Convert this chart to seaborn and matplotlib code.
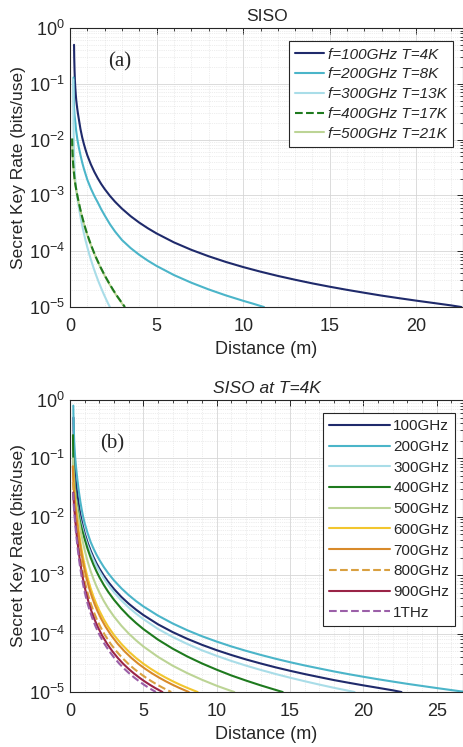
import seaborn as sns
import matplotlib.pyplot as plt
from matplotlib.ticker import LogLocator, MultipleLocator, NullFormatter

# ---- panel (a): SISO, frequency and temperature together ----
d_a100 = [0.23, 0.24, 0.26, 0.28, 0.3, 0.33, 0.36, 0.4, 0.45, 0.5, 0.6, 0.7, 0.8, 0.9,
          1.0, 1.2, 1.4, 1.6, 1.8, 2.0, 2.3, 2.6, 3.0, 3.5, 4.0, 4.5, 5, 6, 7, 8, 9, 10,
          11, 12, 13, 14, 15, 16, 17, 18, 19, 20, 21, 22, 22.6]
r_a100 = [0.5, 0.3, 0.17, 0.115, 0.088, 0.064, 0.05, 0.039, 0.03, 0.024, 0.0155, 0.011,
          0.0083, 0.0065, 0.0052, 0.00361, 0.00265, 0.00203, 0.0016, 0.0013, 0.000983,
          0.000769, 0.000578, 0.000424, 0.000325, 0.000257, 0.000208, 0.000144, 0.000106,
          0.0000813, 0.0000642, 0.000052, 0.000043, 0.0000361, 0.0000308, 0.0000265,
          0.0000231, 0.0000203, 0.000018, 0.000016, 0.0000144, 0.000013, 0.0000118,
          0.0000107, 0.00001]

d_a200 = [0.2, 0.21, 0.23, 0.26, 0.3, 0.35, 0.42, 0.5, 0.6, 0.7, 0.8, 1.0, 1.2, 1.4, 1.6,
          1.8, 2.0, 2.3, 2.6, 3.0, 3.5, 4.0, 4.5, 5.0, 6.0, 7.0, 8.0, 9.0, 10.0, 10.6, 11.2]
r_a200 = [0.13, 0.065, 0.037, 0.027, 0.021, 0.0147, 0.0102, 0.0074, 0.0053, 0.0039, 0.003,
          0.0019, 0.00133, 0.00098, 0.000748, 0.000564, 0.000438, 0.000306, 0.000225,
          0.0001585, 0.0001138, 0.000086, 0.0000675, 0.0000544, 0.0000374, 0.0000273,
          0.0000207, 0.00001615, 0.00001292, 0.0000114, 0.00001]

d_a300 = [0.18, 0.19, 0.2, 0.22, 0.25, 0.28, 0.32, 0.36, 0.4, 0.5, 0.6, 0.7, 0.8, 0.9, 1.0,
          1.1, 1.2, 1.35, 1.5, 1.65, 1.8, 1.95, 2.1, 2.2, 2.3]
r_a300 = [0.12, 0.04, 0.018, 0.0075, 0.0038, 0.0024, 0.0016, 0.00125, 0.001, 0.000626,
          0.000416, 0.000289, 0.000208, 0.000154, 0.000117, 0.0000904, 0.0000711, 0.000051,
          0.0000375, 0.0000282, 0.0000217, 0.0000169, 0.0000134, 0.0000115, 0.00001]

d_a400 = [0.12, 0.13, 0.15, 0.18, 0.22, 0.26, 0.3, 0.35, 0.42, 0.5, 0.6, 0.7, 0.8, 0.9,
          1.0, 1.15, 1.35, 1.55, 1.75, 2.0, 2.25, 2.5, 2.75, 3.0, 3.17]
r_a400 = [0.0105, 0.0073, 0.0051, 0.0036, 0.0026, 0.00198, 0.00162, 0.00131, 0.001,
          0.000754, 0.000549, 0.000412, 0.000317, 0.000248, 0.000198, 0.0001454, 0.0001,
          0.0000714, 0.0000525, 0.000037, 0.0000269, 0.00002, 0.0000152, 0.0000118, 0.00001]

d_a500 = [0.12, 0.13, 0.15, 0.18, 0.22, 0.26, 0.3, 0.35, 0.42, 0.5, 0.6, 0.7, 0.8, 0.9,
          1.0, 1.15, 1.35, 1.55, 1.75, 2.0, 2.25, 2.5, 2.75, 3.0, 3.14]
r_a500 = [0.0098, 0.0071, 0.005, 0.00353, 0.00255, 0.00194, 0.00159, 0.00128, 0.00098,
          0.000739, 0.000538, 0.000404, 0.000311, 0.000243, 0.000194, 0.0001425, 0.000098,
          0.00007, 0.0000515, 0.0000363, 0.0000264, 0.0000196, 0.0000149, 0.0000116, 0.00001]

labels_a = ['f=100GHz T=4K', 'f=200GHz T=8K', 'f=300GHz T=13K',
            'f=400GHz T=17K', 'f=500GHz T=21K']

# ---- panel (b): SISO at T=4K ----
d_b100, r_b100 = d_a100, r_a100

d_b200 = [0.22, 0.23, 0.25, 0.28, 0.32, 0.36, 0.4, 0.45, 0.5, 0.6, 0.7, 0.8, 0.9, 1.0,
          1.2, 1.4, 1.6, 1.8, 2.0, 2.3, 2.6, 3.0, 3.5, 4, 4.5, 5, 6, 7, 8, 9, 10, 11, 12,
          13, 14, 15, 16, 17, 18, 19, 20, 21, 22, 23, 24, 25, 26, 27]
r_b200 = [0.8, 0.55, 0.35, 0.2, 0.13, 0.095, 0.075, 0.056, 0.043, 0.027, 0.0182, 0.013,
          0.0098, 0.0077, 0.0052, 0.00372, 0.00285, 0.00225, 0.001825, 0.00138, 0.00108,
          0.000811, 0.000596, 0.000456, 0.00036, 0.000292, 0.000203, 0.000149, 0.000114,
          0.00009, 0.000073, 0.0000603, 0.0000507, 0.0000432, 0.0000372, 0.0000324,
          0.0000285, 0.0000253, 0.0000225, 0.0000202, 0.00001825, 0.00001655, 0.0000151,
          0.0000138, 0.0000127, 0.0000117, 0.0000108, 0.00001]

d_b300 = [0.2, 0.22, 0.25, 0.3, 0.35, 0.4, 0.5, 0.6, 0.7, 0.8, 0.9, 1.0, 1.2, 1.4, 1.6,
          1.8, 2.0, 2.3, 2.6, 3.0, 3.5, 4, 4.5, 5, 6, 7, 8, 9, 10, 11, 12, 13, 14, 15, 16,
          17, 18, 19, 19.4]
r_b300 = [0.12, 0.08, 0.058, 0.04, 0.0275, 0.021, 0.0151, 0.0112, 0.0087, 0.007, 0.00566,
          0.00458, 0.00321, 0.00239, 0.00183, 0.00144, 0.00117, 0.00088, 0.000684,
          0.000509, 0.000369, 0.00028, 0.00022, 0.000177, 0.00012, 0.0000875, 0.0000663,
          0.0000517, 0.0000416, 0.000034, 0.0000283, 0.0000239, 0.0000204, 0.0000176,
          0.0000153, 0.0000134, 0.0000118, 0.0000105, 0.00001]

d_b400 = [0.2, 0.21, 0.23, 0.26, 0.3, 0.35, 0.4, 0.5, 0.6, 0.7, 0.8, 0.9, 1.0, 1.2, 1.4,
          1.6, 1.8, 2.0, 2.3, 2.6, 3.0, 3.5, 4, 4.5, 5, 6, 7, 8, 9, 10, 11, 12, 13, 14, 14.5]
r_b400 = [0.25, 0.14, 0.08, 0.053, 0.037, 0.027, 0.021, 0.0142, 0.0102, 0.0078, 0.0062,
          0.00505, 0.00412, 0.00279, 0.002007, 0.001504, 0.001164, 0.000925, 0.000681,
          0.000519, 0.000378, 0.000268, 0.000198, 0.0001519, 0.0001195, 0.0000787,
          0.0000552, 0.0000405, 0.0000308, 0.0000241, 0.0000192, 0.0000157, 0.000013,
          0.0000109, 0.00001]

d_b500 = [0.2, 0.22, 0.25, 0.3, 0.35, 0.4, 0.5, 0.6, 0.7, 0.8, 0.9, 1.0, 1.2, 1.4, 1.6,
          1.8, 2.0, 2.3, 2.6, 3.0, 3.5, 4, 4.5, 5, 6, 7, 8, 9, 10, 10.6, 11.2]
r_b500 = [0.1, 0.065, 0.045, 0.031, 0.024, 0.019, 0.0127, 0.0088, 0.0063, 0.0046, 0.00345,
          0.00267, 0.001712, 0.00118, 0.000857, 0.000647, 0.000504, 0.000362, 0.000272,
          0.0001948, 0.0001363, 0.0001002, 0.0000766, 0.0000602, 0.0000399, 0.0000282,
          0.000021, 0.0000162, 0.0000128, 0.0000113, 0.00001]

d_b600 = [0.2, 0.22, 0.25, 0.3, 0.35, 0.4, 0.5, 0.6, 0.7, 0.8, 0.9, 1.0, 1.2, 1.4, 1.6,
          1.8, 2.0, 2.3, 2.6, 3.0, 3.5, 4.0, 4.5, 5.0, 5.5, 6.0, 6.5, 7.0, 7.5, 8.0, 8.7]
r_b600 = [0.073, 0.055, 0.039, 0.026, 0.0184, 0.0137, 0.0083, 0.0054, 0.0037, 0.00263,
          0.00193, 0.00145, 0.000894, 0.000599, 0.000427, 0.000318, 0.000246, 0.0001754,
          0.0001312, 0.0000941, 0.0000664, 0.0000494, 0.0000382, 0.0000305, 0.000025,
          0.0000209, 0.00001776, 0.0000153, 0.00001334, 0.00001176, 0.00001]

# the higher bands have the same shape, squeezed towards shorter distances
d_b700 = [0.186, 0.205, 0.233, 0.279, 0.326, 0.372, 0.466, 0.559, 0.652, 0.745, 0.838,
          0.931, 1.117, 1.303, 1.49, 1.676, 1.862, 2.141, 2.421, 2.793, 3.259, 3.724,
          4.19, 4.655, 5.121, 5.586, 6.052, 6.517, 6.983, 7.448, 8.1]
r_b700 = r_b600

d_b800 = [0.198, 0.238, 0.278, 0.317, 0.397, 0.476, 0.555, 0.634, 0.714, 0.793, 0.952,
          1.11, 1.269, 1.427, 1.586, 1.824, 2.062, 2.379, 2.776, 3.172, 3.569, 3.965,
          4.362, 4.758, 5.155, 5.551, 5.948, 6.344, 6.9]
r_b800 = r_b600[2:]

d_b900 = [0.217, 0.253, 0.29, 0.362, 0.434, 0.507, 0.579, 0.652, 0.724, 0.869, 1.014,
          1.159, 1.303, 1.448, 1.665, 1.883, 2.172, 2.534, 2.896, 3.258, 3.62, 3.982,
          4.345, 4.707, 5.069, 5.431, 5.793, 6.3]
r_b900 = r_b600[3:]

d_b1t = [0.202, 0.235, 0.269, 0.336, 0.403, 0.47, 0.538, 0.605, 0.672, 0.806, 0.941,
         1.075, 1.21, 1.344, 1.546, 1.747, 2.016, 2.352, 2.688, 3.024, 3.36, 3.696,
         4.032, 4.368, 4.704, 5.04, 5.376, 5.85]
r_b1t = r_b600[3:]

labels_b = ['100GHz', '200GHz', '300GHz', '400GHz', '500GHz',
            '600GHz', '700GHz', '800GHz', '900GHz', '1THz']

sns.set_theme(style='white')
plt.rcParams['font.family'] = ['Liberation Sans', 'DejaVu Sans']
plt.rcParams['mathtext.fontset'] = 'custom'
plt.rcParams['mathtext.rm'] = 'Liberation Sans'
plt.rcParams['mathtext.it'] = 'Liberation Sans:italic'

fig = plt.figure(figsize=(4.64, 7.47), dpi=100)
ax1 = fig.add_axes([0.151, 0.589, 0.847, 0.3735])
ax2 = fig.add_axes([0.151, 0.0736, 0.847, 0.391])

cols_a = ['#1f2a6b', '#4bb5c9', '#a9dde8', '#1e7a1e', '#bcd495']
sty_a = ['-', '-', '-', '--', '-']
series_a = [(d_a100, r_a100), (d_a200, r_a200), (d_a300, r_a300),
            (d_a400, r_a400), (d_a500, r_a500)]
# olive first so the dashed green sits on top of it
for i in [0, 1, 2, 4, 3]:
    x, y = series_a[i]
    sns.lineplot(x=x, y=y, ax=ax1, color=cols_a[i], ls=sty_a[i], lw=1.5,
                 label=labels_a[i])

cols_b = ['#1f2a6b', '#4bb5c9', '#a9dde8', '#1e7a1e', '#bcd495',
          '#f2c62e', '#d88a2a', '#d9a040', '#9a2447', '#9b5fa8']
sty_b = ['-', '-', '-', '-', '-', '-', '-', '--', '-', '--']
series_b = [(d_b100, r_b100), (d_b200, r_b200), (d_b300, r_b300), (d_b400, r_b400),
            (d_b500, r_b500), (d_b600, r_b600), (d_b700, r_b700), (d_b800, r_b800),
            (d_b900, r_b900), (d_b1t, r_b1t)]
for i, (x, y) in enumerate(series_b):
    sns.lineplot(x=x, y=y, ax=ax2, color=cols_b[i], ls=sty_b[i], lw=1.5,
                 label=labels_b[i])

for ax, xmax in [(ax1, 22.7), (ax2, 26.8)]:
    ax.set_yscale('log')
    ax.set_ylim(1e-5, 1)
    ax.set_xlim(0, xmax)
    ax.xaxis.set_major_locator(MultipleLocator(5))
    ax.xaxis.set_minor_locator(MultipleLocator(1))
    ax.yaxis.set_major_locator(LogLocator(base=10, numticks=10))
    ax.yaxis.set_minor_locator(LogLocator(base=10, subs=range(2, 10), numticks=10))
    ax.yaxis.set_minor_formatter(NullFormatter())
    ax.tick_params(which='both', direction='in', top=True, right=True,
                   labelsize=13, colors='#262626')
    ax.tick_params(axis='x', which='major', pad=8)
    ax.tick_params(which='major', length=4, width=0.7)
    ax.tick_params(which='minor', length=2, width=0.6)
    ax.grid(which='major', color='#d6d6d6', lw=0.6, ls='-')
    ax.grid(which='minor', color='#dcdcdc', lw=0.5, ls=':')
    ax.set_axisbelow(True)
    for s in ax.spines.values():
        s.set_color('#262626')
        s.set_linewidth(0.8)
    ax.set_xlabel('Distance (m)', fontsize=13, labelpad=4)
    ax.set_ylabel('Secret Key Rate (bits/use)', fontsize=12.5, labelpad=2)

ax1.set_title('SISO', fontsize=12.5, pad=5)
ax2.set_title('SISO at T=4K', fontsize=12.5, pad=5, style='italic')

ax1.text(0.097, 0.878, '(a)', transform=ax1.transAxes, fontsize=15,
         family='Liberation Serif', va='center', ha='left')
ax2.text(0.076, 0.849, '(b)', transform=ax2.transAxes, fontsize=15,
         family='Liberation Serif', va='center', ha='left')

# legend in the order of the figure
h, l = ax1.get_legend_handles_labels()
order = [l.index(t) for t in labels_a]
leg1 = ax1.legend([h[k] for k in order], [l[k] for k in order], loc='upper right',
                  bbox_to_anchor=(0.975, 0.952), fontsize=11, frameon=True,
                  fancybox=False, framealpha=1, edgecolor='#262626',
                  handlelength=1.9, handletextpad=0.3, labelspacing=0.38,
                  borderpad=0.4, borderaxespad=0)
leg1.get_frame().set_linewidth(0.8)
for t in leg1.get_texts():
    t.set_style('italic')

leg2 = ax2.legend(loc='upper right', bbox_to_anchor=(0.98, 0.955), fontsize=11,
                  frameon=True, fancybox=False, framealpha=1, edgecolor='#262626',
                  handlelength=4.0, handletextpad=0.2, labelspacing=0.44,
                  borderpad=0.4, borderaxespad=0)
leg2.get_frame().set_linewidth(0.8)

fig.savefig('out.png', dpi=100)
